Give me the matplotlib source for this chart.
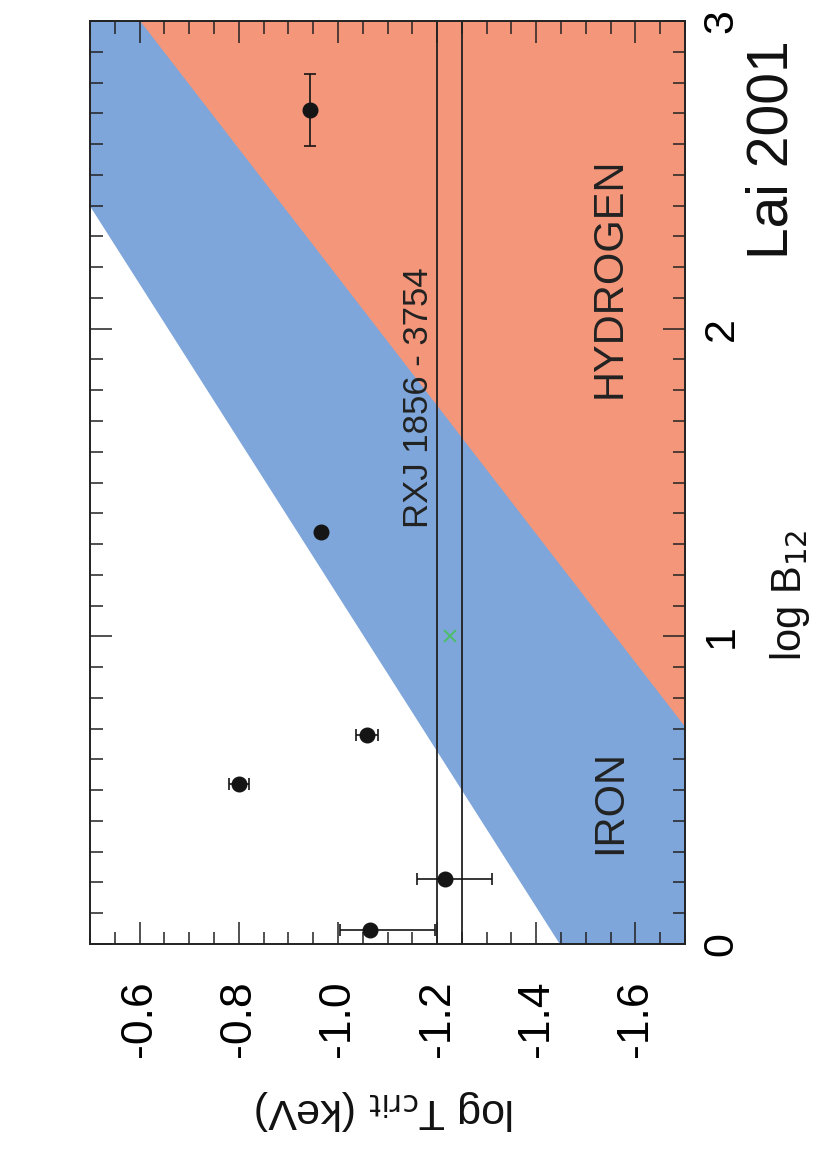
import matplotlib
matplotlib.use("Agg")
import matplotlib.pyplot as plt
from matplotlib.ticker import MultipleLocator
import numpy as np

plt.rcParams['font.family'] = ['Liberation Sans', 'DejaVu Sans']

# ---- data (log B12, log T_crit in keV) ----
obs_logB = [0.045, 0.21, 0.52, 0.68, 1.34, 2.71]
obs_logT = [-1.065, -1.216, -0.80, -1.058, -0.965, -0.944]
obs_T_lo = [0.131, 0.094, 0.02, 0.022, 0.0, 0.0]   # toward smaller log T
obs_T_hi = [0.061, 0.056, 0.02, 0.022, 0.0, 0.0]   # toward larger log T
obs_B_err = [0.0, 0.0, 0.0, 0.0, 0.0, 0.117]

rxj_logB = [1.0]
rxj_logT = [-1.226]
rxj_band = [-1.20, -1.25]

# iron condensation boundary
iron_logB = [0.0, 3.0]
iron_logT = [-1.447, -0.262]
# hydrogen condensation boundary
hyd_logB = [0.706, 3.0]
hyd_logT = [-1.70, -0.601]

xlim = (-0.5, -1.7)
ylim = (0.0, 3.0)

BLUE = '#7EA6DA'
SALMON = '#F4967A'

W, H = 823, 1157
fig = plt.figure(figsize=(W / 100, H / 100), dpi=100)
L, R, T, B = 90, 685, 21, 944
ax = fig.add_axes([L / W, 1 - B / H, (R - L) / W, (B - T) / H])

ax.set_xlim(*xlim)
ax.set_ylim(*ylim)

# regions
ax.fill_betweenx(ylim, xlim[0], xlim[1], color=BLUE, lw=0, zorder=0)
ax.fill_betweenx(iron_logB, iron_logT, xlim[0], color='white', lw=0, zorder=0.5)
ax.fill_betweenx(hyd_logB, hyd_logT, xlim[1], color=SALMON, lw=0, zorder=0.5)

# RXJ band
for v in rxj_band:
    ax.axvline(v, color='#222222', lw=1.3, zorder=2)

# observations
ax.errorbar(obs_logT, obs_logB, xerr=[obs_T_lo, obs_T_hi], yerr=obs_B_err,
            fmt='o', color='#151515', ms=10.5, capsize=4.5, elinewidth=1.2,
            capthick=1.2, zorder=4)
ax.plot(rxj_logT, rxj_logB, 'x', color='#4DBF6A', ms=8, mew=1.4, zorder=4)

# ticks
ax.xaxis.set_major_locator(MultipleLocator(0.2))
ax.xaxis.set_minor_locator(MultipleLocator(0.05))
ax.yaxis.set_major_locator(MultipleLocator(1))
ax.yaxis.set_minor_locator(MultipleLocator(0.1))
ax.tick_params(which='both', direction='in', top=True, bottom=True,
               left=True, right=True, labelleft=False, labelright=True,
               labelbottom=True, width=1.1, color='#222222')
ax.tick_params(which='major', length=16)
ax.tick_params(which='minor', length=9)
ax.tick_params(axis='x', which='major', labelsize=32, labelrotation=90, pad=26)
ax.tick_params(axis='y', which='major', labelsize=31, labelrotation=90, pad=12)
ax.set_xticks(ax.get_xticks())
ax.set_xticklabels([f'{v:.1f}' for v in ax.get_xticks()])
for lab in ax.get_xticklabels():
    lab.set_va('top')
for lab in ax.get_yticklabels():
    lab.set_va('center')
    lab.set_ha('left')
ax.set_xlim(*xlim)
for s in ax.spines.values():
    s.set_linewidth(1.4)
    s.set_color('#222222')

# text
fig.text(772 / W, 1 - 150 / H, 'Lai 2001', rotation=90, fontsize=41,
         ha='center', va='center', color='#111111')
fig.text(790 / W, 1 - 595 / H, r'log B$_{12}$', rotation=90, fontsize=30,
         ha='center', va='center', color='#111111')
fig.text(385 / W, 1 - 1110 / H, r'log T$_{\rm crit}$ (keV)', rotation=180,
         fontsize=31, ha='center', va='center', color='#111111')
fig.text(610 / W, 1 - 278 / H, 'HYDROGEN', rotation=90, fontsize=30,
         ha='center', va='center', color='#222222')
fig.text(610 / W, 1 - 802 / H, 'IRON', rotation=90, fontsize=30,
         ha='center', va='center', color='#222222')
fig.text(418 / W, 1 - 398 / H, 'RXJ 1856 - 3754', rotation=90, fontsize=25,
         ha='center', va='center', color='#222222')

fig.savefig('out.png', dpi=100)
